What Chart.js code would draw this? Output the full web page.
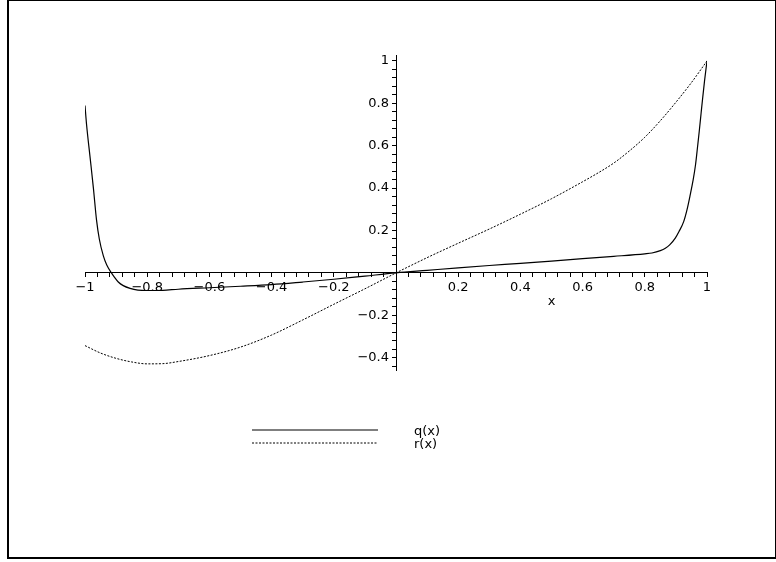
<!DOCTYPE html>
<html>
<head>
<meta charset="utf-8">
<script src="https://cdn.jsdelivr.net/npm/chart.js@4/dist/chart.umd.min.js"></script>
<style>
  body { margin: 0; background: #fff; }
  #wrap { position: relative; width: 776px; height: 562px; overflow: hidden; }
  #frame { position: absolute; left: 7px; top: 0; width: 769px; height: 559px; box-sizing: border-box;
           border-left: 2px solid #000; border-top: 1px solid #000; border-bottom: 2px solid #000; border-right: 1px solid #000; }
  #myChart { position: absolute; left: 0; top: 0; }
  .leg { position: absolute; font: 13px/13px "DejaVu Sans", sans-serif; color: #000; }
  .legLine { position: absolute; }
</style>
</head>
<body>
<div id="wrap">
  <div id="frame"></div>
  <canvas id="myChart" width="776" height="562"></canvas>
  <div id="legend"></div>
</div>
<script>
'use strict';
// series names
let seriesNames = ['q(x)', 'r(x)'];

// q(x), solid
let qX = [-1, -0.995, -0.984, -0.973, -0.963, -0.954, -0.941, -0.93, -0.915, -0.905,
  -0.893, -0.877, -0.855, -0.83, -0.8, -0.75, -0.7, -0.6, -0.5, -0.4,
  -0.3, -0.2, -0.1, 0, 0.1, 0.2, 0.3, 0.4, 0.5, 0.6,
  0.7, 0.8, 0.823, 0.85, 0.866, 0.88, 0.898, 0.91, 0.925, 0.936,
  0.946, 0.955, 0.963, 0.97, 0.975, 0.981, 0.986, 0.992, 1];
let qY = [0.79, 0.70, 0.55, 0.40, 0.25, 0.16, 0.08, 0.037, 0, -0.021,
  -0.043, -0.06, -0.073, -0.081, -0.083, -0.082, -0.077, -0.07, -0.063, -0.055,
  -0.043, -0.03, -0.015, 0, 0.012, 0.024, 0.035, 0.045, 0.056, 0.067,
  0.078, 0.09, 0.094, 0.105, 0.116, 0.132, 0.164, 0.195, 0.242, 0.30,
  0.368, 0.435, 0.509, 0.60, 0.667, 0.753, 0.824, 0.905, 1];

// r(x), dotted
let rX = [-1, -0.95, -0.9, -0.85, -0.8, -0.75, -0.7, -0.6, -0.5, -0.4,
  -0.3, -0.2, -0.1, 0, 0.1, 0.2, 0.3, 0.4, 0.5, 0.6,
  0.65, 0.7, 0.75, 0.8, 0.85, 0.9, 0.95, 1];
let rY = [-0.343, -0.378, -0.403, -0.42, -0.429, -0.428, -0.418, -0.39, -0.35, -0.293,
  -0.222, -0.148, -0.075, 0, 0.072, 0.14, 0.207, 0.277, 0.35, 0.43,
  0.472, 0.518, 0.575, 0.64, 0.718, 0.805, 0.898, 1];

// axis ranges and labelled ticks
let xMin = -1, xMax = 1;
let yMin = -0.458, yMax = 1.028;
let xTickLabels = [-1, -0.8, -0.6, -0.4, -0.2, 0.2, 0.4, 0.6, 0.8, 1];
let yTickLabels = [-0.4, -0.2, 0.2, 0.4, 0.6, 0.8, 1];
let minorStep = 0.04;
let xTitle = 'x';
let xTitleAt = 0.5;

const FONT = '"DejaVu Sans", sans-serif';

function toPoints(xs, ys) {
  let pts = [];
  for (let i = 0; i < xs.length; i++) {
    pts.push({ x: xs[i], y: ys[i] });
  }
  return pts;
}

// every minor tick position inside [min, max]
function tickValues(min, max) {
  let out = [];
  for (let k = Math.ceil(min / minorStep - 1e-9); k * minorStep <= max + 1e-9; k++) {
    out.push({ value: Math.round(k * minorStep * 100) / 100 });
  }
  return out;
}

function makeLabel(list) {
  return function (value) {
    for (let i = 0; i < list.length; i++) {
      if (Math.abs(list[i] - value) < 1e-6) {
        return (value < 0 ? '\u2212' : '') + Math.abs(list[i]);
      }
    }
    return '';
  };
}

// axis title "x" sits under the middle of the positive half, like maple does
const xTitlePlugin = {
  id: 'xTitlePlugin',
  afterDraw(chart) {
    let c = chart.ctx;
    let xs = chart.scales.x, ys = chart.scales.y;
    c.save();
    c.font = '13px ' + FONT;
    c.fillStyle = '#000';
    c.textAlign = 'center';
    c.textBaseline = 'middle';
    c.fillText(xTitle, xs.getPixelForValue(xTitleAt), ys.getPixelForValue(0) + 29);
    c.restore();
  }
};

const ctx = document.getElementById('myChart').getContext('2d');

let config = {
  type: 'line',
  data: {
    datasets: [{
      label: seriesNames[0],
      data: toPoints(qX, qY),
      borderColor: '#000',
      borderWidth: 1.2,
      pointRadius: 0,
      cubicInterpolationMode: 'monotone',
      fill: false
    },
    {
      label: seriesNames[1],
      data: toPoints(rX, rY),
      borderColor: '#000',
      borderWidth: 1,
      borderDash: [2, 1.5],
      pointRadius: 0,
      cubicInterpolationMode: 'monotone',
      fill: false
    }]
  },
  options: {
    responsive: false,
    animation: false,
    layout: { padding: { left: 85, right: 69, top: 55, bottom: 192 } },
    plugins: { legend: { display: false }, tooltip: { enabled: false } },
    scales: {
      x: {
        type: 'linear',
        min: xMin,
        max: xMax,
        position: { y: 0 },
        afterBuildTicks: function (scale) { scale.ticks = tickValues(xMin, xMax); },
        border: { display: true, color: '#000', width: 1 },
        grid: { drawOnChartArea: false, drawTicks: true, tickLength: 4, tickColor: '#000', tickWidth: 1 },
        ticks: { autoSkip: false, maxRotation: 0, padding: 3, color: '#000',
                 font: { family: FONT, size: 13 }, callback: makeLabel(xTickLabels) }
      },
      y: {
        type: 'linear',
        min: yMin,
        max: yMax,
        // x runs -1..1, so the middle of the plot is x = 0
        position: 'center',
        afterBuildTicks: function (scale) { scale.ticks = tickValues(yMin, yMax); },
        border: { display: true, color: '#000', width: 1 },
        grid: { drawOnChartArea: false, drawTicks: true, tickLength: 4, tickColor: '#000', tickWidth: 1 },
        ticks: { autoSkip: false, padding: 3, color: '#000',
                 font: { family: FONT, size: 13 }, callback: makeLabel(yTickLabels) }
      }
    }
  },
  plugins: [xTitlePlugin]
};
const myChart = new Chart(ctx, config);

// legend under the plot: sample line then label, one row per series
function renderLegend() {
  let legend = document.getElementById('legend');
  let rowY = [430, 443];
  for (let i = 0; i < myChart.data.datasets.length; i++) {
    let ds = myChart.data.datasets[i];
    let svg = document.createElementNS('http://www.w3.org/2000/svg', 'svg');
    svg.setAttribute('class', 'legLine');
    svg.setAttribute('width', '126');
    svg.setAttribute('height', '4');
    svg.style.left = '252px';
    svg.style.top = (rowY[i] - 2) + 'px';
    let line = document.createElementNS('http://www.w3.org/2000/svg', 'line');
    line.setAttribute('x1', '0');
    line.setAttribute('x2', '126');
    line.setAttribute('y1', '2');
    line.setAttribute('y2', '2');
    line.setAttribute('stroke', ds.borderColor);
    line.setAttribute('stroke-width', ds.borderWidth);
    if (ds.borderDash) line.setAttribute('stroke-dasharray', ds.borderDash.join(' '));
    svg.appendChild(line);
    legend.appendChild(svg);

    let label = document.createElement('div');
    label.className = 'leg';
    label.textContent = ds.label;
    label.style.left = '414px';
    label.style.top = (rowY[i] - 6) + 'px';
    legend.appendChild(label);
  }
}
renderLegend();
</script>
</body>
</html>
